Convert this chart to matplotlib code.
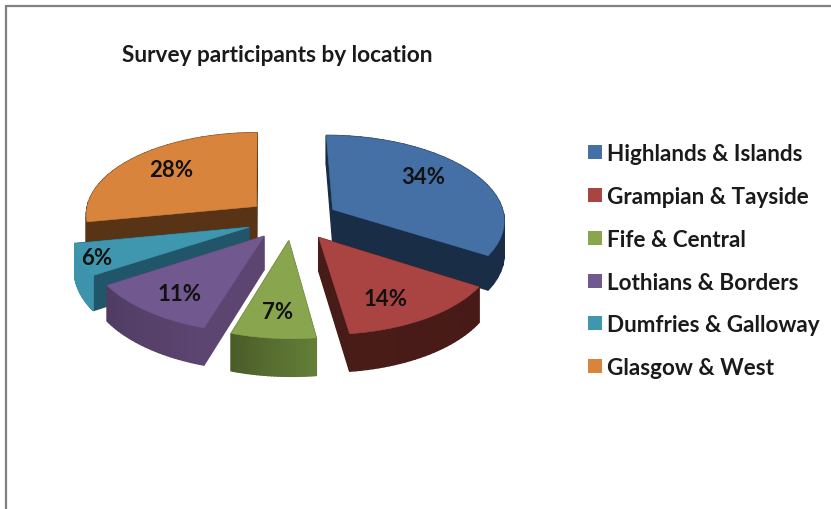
#!/usr/bin/env python3
# -*- coding: utf-8 -*-
import numpy as np
import matplotlib
matplotlib.use('Agg')
import matplotlib.pyplot as plt
from matplotlib.colors import to_rgb
from matplotlib.patches import Polygon, Rectangle

title = 'Survey participants by location'
locations = ['Highlands & Islands', 'Grampian & Tayside', 'Fife & Central',
             'Lothians & Borders', 'Dumfries & Galloway', 'Glasgow & West']
percents = [34, 14, 7, 11, 6, 28]

top_colors = ['#4470a6', '#a94442', '#89a54e', '#71588f', '#3f97af', '#d9843c']
cut_colors = ['#1a2d46', '#461b18', '#5b7633', '#5c4570', '#21566a', '#583316']
rim_start = ['#1a2d46', '#481a17', '#637f38', '#5c4570', '#3c93ab', '#583316']
rim_end = ['#1a2d46', '#4a1c18', '#4b5c29', '#4f3c63', '#3c93ab', '#583316']

# pixel layout of the pie
cx, cy = 292.5, 220.5
rx, ry = 172, 83.5
persp = 0.10
shear = 3
depth = 33
explode_x = 0.272
explode_y = 0.25
# painter's order, back slices first
draw_order = [5, 0, 4, 3, 1, 2]
label_xy = [(423, 178), (386, 300), (278, 313), (180, 295), (97, 259), (171, 171)]

legend_y = [153, 196, 239, 282, 324, 367]

plt.rcParams['font.family'] = ['Lato', 'DejaVu Sans']

fig = plt.figure(figsize=(8.31, 5.10), dpi=100)
ax = fig.add_axes([0, 0, 1, 1])
ax.set_xlim(0, 831)
ax.set_ylim(510, 0)
ax.axis('off')


def project(x, y, z=0.0):
    # x to the right, y away from the viewer, z = 1 is the bottom of the pie
    f = 1.0 / (1.0 + persp * y)
    return cx + (rx * x - shear * y) * f, cy + (z * depth - ry * y) * f


def mix(c1, c2, t):
    a, b = np.array(to_rgb(c1)), np.array(to_rgb(c2))
    return tuple(a + (b - a) * t)


def add_poly(points, color, zorder, lw=0.4):
    ax.add_patch(Polygon(points, closed=True, facecolor=color, edgecolor=color,
                         linewidth=lw, zorder=zorder))


def draw_slice(i, start, end, zorder):
    mid = np.radians((start + end) / 2)
    ox, oy = explode_x * np.sin(mid), explode_y * np.cos(mid)
    angles = np.radians(np.linspace(start, end, 30))
    xs = ox + np.sin(angles)
    ys = oy + np.cos(angles)

    # walls, furthest first so nearer ones paint over them
    walls = []
    for j in range(len(angles) - 1):
        x0, y0, x1, y1 = xs[j], ys[j], xs[j + 1], ys[j + 1]
        color = mix(rim_start[i], rim_end[i], j / (len(angles) - 2))
        walls.append(((y0 + y1) / 2, x0, y0, x1, y1, color))
    for x1, y1 in [(xs[0], ys[0]), (xs[-1], ys[-1])]:
        walls.append(((oy + y1) / 2, ox, oy, x1, y1, cut_colors[i]))
    walls.sort(key=lambda w: -w[0])
    for _, x0, y0, x1, y1, color in walls:
        add_poly([project(x0, y0), project(x1, y1),
                  project(x1, y1, 1), project(x0, y0, 1)], color, zorder, lw=1.0)

    top = [project(ox, oy)] + [project(a, b) for a, b in zip(xs, ys)]
    add_poly(top, top_colors[i], zorder + 0.5)


# slice angles run clockwise from twelve o'clock
edges = np.concatenate([[0], np.cumsum(percents)]) * 3.6
for n, i in enumerate(draw_order):
    draw_slice(i, edges[i], edges[i + 1], 2 + n)

for i, pct in enumerate(percents):
    ax.text(label_xy[i][0], label_xy[i][1], '%d%%' % pct, ha='center', va='center',
            fontsize=16, fontweight='bold', color='#111111', zorder=20)

ax.text(277, 55, title, ha='center', va='center', fontsize=16.3,
        fontweight='bold', color='#1a1a1a')

for name, color, y in zip(locations, top_colors, legend_y):
    ax.add_patch(Rectangle((588, y - 7), 14, 14, facecolor=color, edgecolor='none'))
    ax.text(607, y + 1.5, name, ha='left', va='center', fontsize=16.2,
            fontweight='bold', color='#1a1a1a')

# outer frame, only the top and left edges are in view
ax.plot([6, 6, 831], [510, 7, 7], color='#808080', linewidth=1.6, solid_joinstyle='miter')

fig.savefig('out.png', dpi=100, facecolor='white')
